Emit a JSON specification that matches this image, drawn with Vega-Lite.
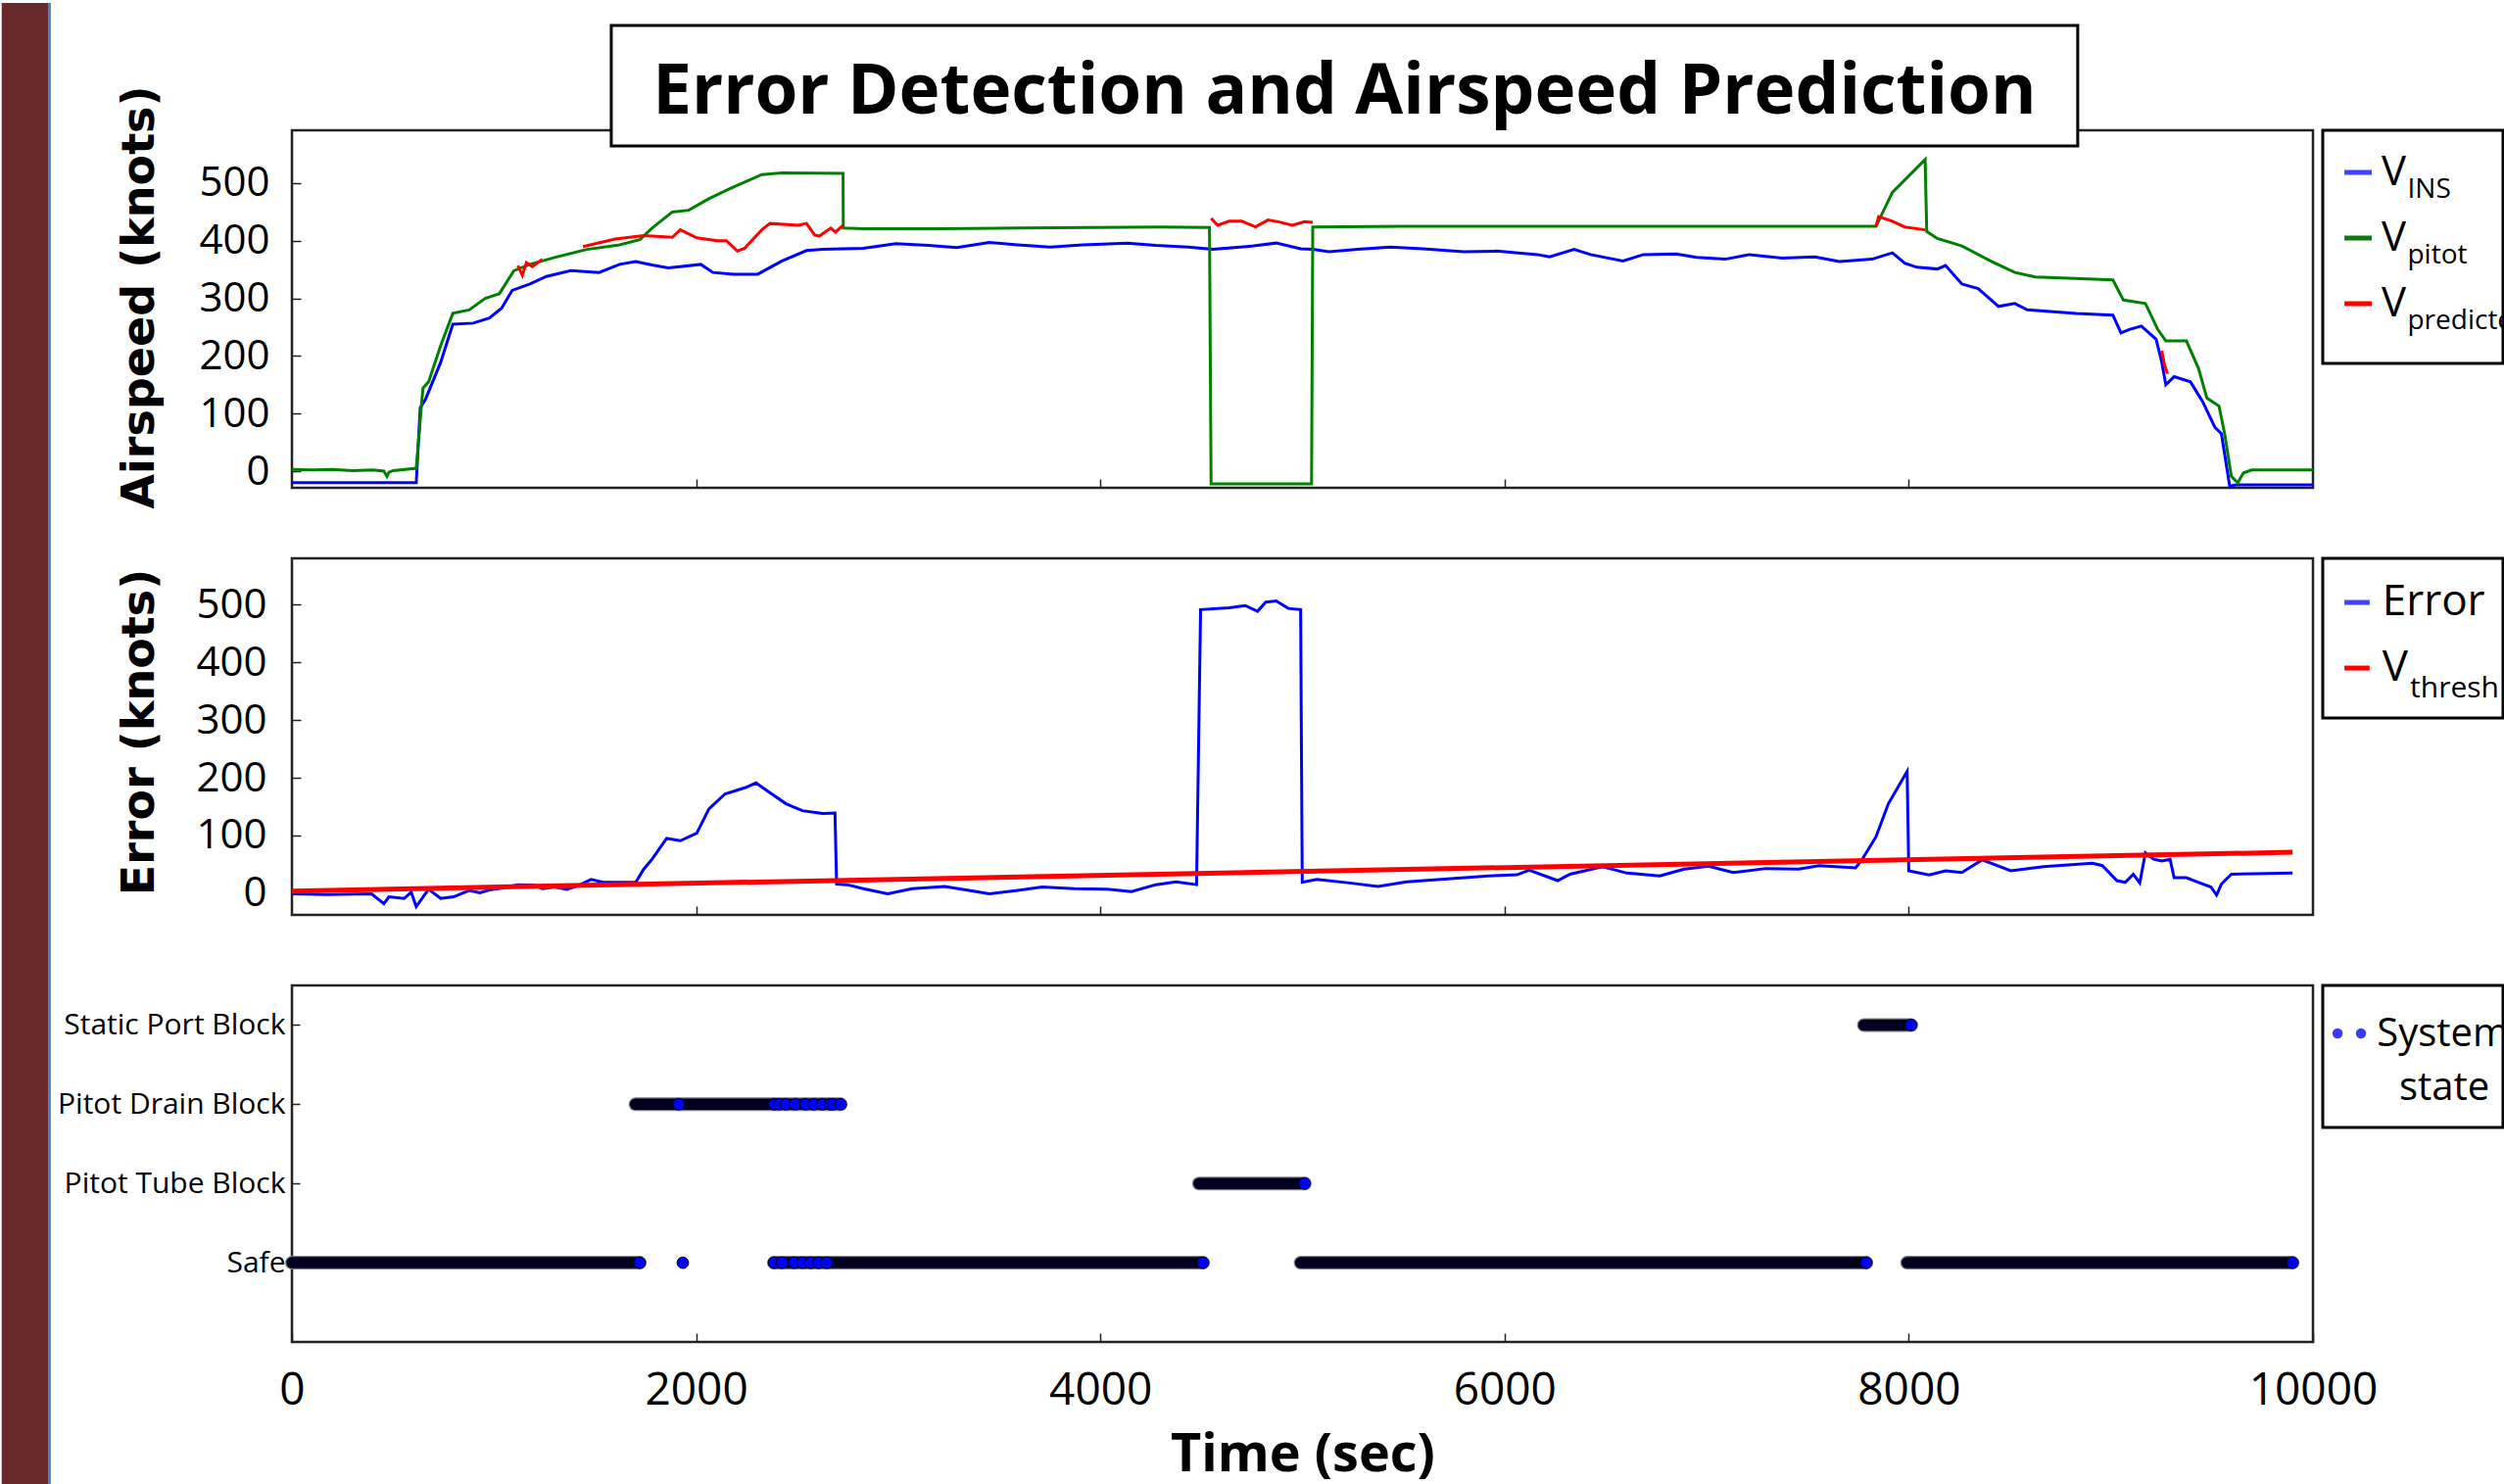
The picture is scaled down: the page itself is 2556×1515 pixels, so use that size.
{
  "$schema": "https://vega.github.io/schema/vega-lite/v6.json",
  "padding": 0,
  "background": "white",
  "config": {
    "font": "Open Sans",
    "view": {"stroke": "#222222", "strokeWidth": 2.5},
    "axis": {"domain": false, "grid": false, "labelColor": "black", "titleColor": "black", "tickColor": "#222222", "tickWidth": 1.5, "labelFont": "Open Sans"}
  },
  "datasets": {
    "airspeed": [
      {"series": "INS", "seg": "a", "t": 0, "v": -20}, {"series": "INS", "seg": "a", "t": 615, "v": -20}, {"series": "INS", "seg": "a", "t": 635, "v": 110}, {"series": "INS", "seg": "a", "t": 660, "v": 124}, {"series": "INS", "seg": "a", "t": 736, "v": 189}, {"series": "INS", "seg": "a", "t": 796, "v": 255}, {"series": "INS", "seg": "a", "t": 897, "v": 257}, {"series": "INS", "seg": "a", "t": 977, "v": 266}, {"series": "INS", "seg": "a", "t": 1038, "v": 283}, {"series": "INS", "seg": "a", "t": 1090, "v": 314}, {"series": "INS", "seg": "a", "t": 1178, "v": 325}, {"series": "INS", "seg": "a", "t": 1259, "v": 338}, {"series": "INS", "seg": "a", "t": 1380, "v": 348}, {"series": "INS", "seg": "a", "t": 1520, "v": 345}, {"series": "INS", "seg": "a", "t": 1621, "v": 359}, {"series": "INS", "seg": "a", "t": 1701, "v": 364}, {"series": "INS", "seg": "a", "t": 1782, "v": 358}, {"series": "INS", "seg": "a", "t": 1862, "v": 353}, {"series": "INS", "seg": "a", "t": 2023, "v": 359}, {"series": "INS", "seg": "a", "t": 2083, "v": 345}, {"series": "INS", "seg": "a", "t": 2184, "v": 342}, {"series": "INS", "seg": "a", "t": 2305, "v": 342}, {"series": "INS", "seg": "a", "t": 2425, "v": 365}, {"series": "INS", "seg": "a", "t": 2546, "v": 383}, {"series": "INS", "seg": "a", "t": 2626, "v": 385}, {"series": "INS", "seg": "a", "t": 2827, "v": 387}, {"series": "INS", "seg": "a", "t": 2988, "v": 395}, {"series": "INS", "seg": "a", "t": 3149, "v": 392}, {"series": "INS", "seg": "a", "t": 3290, "v": 388}, {"series": "INS", "seg": "a", "t": 3451, "v": 397}, {"series": "INS", "seg": "a", "t": 3591, "v": 393}, {"series": "INS", "seg": "a", "t": 3752, "v": 389}, {"series": "INS", "seg": "a", "t": 3913, "v": 393}, {"series": "INS", "seg": "a", "t": 4134, "v": 396}, {"series": "INS", "seg": "a", "t": 4275, "v": 392}, {"series": "INS", "seg": "a", "t": 4436, "v": 389}, {"series": "INS", "seg": "a", "t": 4557, "v": 385}, {"series": "INS", "seg": "a", "t": 4758, "v": 391}, {"series": "INS", "seg": "a", "t": 4870, "v": 396}, {"series": "INS", "seg": "a", "t": 4991, "v": 386}, {"series": "INS", "seg": "a", "t": 5051, "v": 385}, {"series": "INS", "seg": "a", "t": 5132, "v": 381}, {"series": "INS", "seg": "a", "t": 5273, "v": 385}, {"series": "INS", "seg": "a", "t": 5435, "v": 389}, {"series": "INS", "seg": "a", "t": 5596, "v": 386}, {"series": "INS", "seg": "a", "t": 5798, "v": 381}, {"series": "INS", "seg": "a", "t": 5960, "v": 382}, {"series": "INS", "seg": "a", "t": 6162, "v": 376}, {"series": "INS", "seg": "a", "t": 6223, "v": 372}, {"series": "INS", "seg": "a", "t": 6344, "v": 385}, {"series": "INS", "seg": "a", "t": 6425, "v": 376}, {"series": "INS", "seg": "a", "t": 6586, "v": 365}, {"series": "INS", "seg": "a", "t": 6687, "v": 376}, {"series": "INS", "seg": "a", "t": 6849, "v": 377}, {"series": "INS", "seg": "a", "t": 6950, "v": 371}, {"series": "INS", "seg": "a", "t": 7091, "v": 368}, {"series": "INS", "seg": "a", "t": 7212, "v": 376}, {"series": "INS", "seg": "a", "t": 7374, "v": 370}, {"series": "INS", "seg": "a", "t": 7535, "v": 372}, {"series": "INS", "seg": "a", "t": 7657, "v": 364}, {"series": "INS", "seg": "a", "t": 7818, "v": 368}, {"series": "INS", "seg": "a", "t": 7919, "v": 379}, {"series": "INS", "seg": "a", "t": 7980, "v": 361}, {"series": "INS", "seg": "a", "t": 8040, "v": 354}, {"series": "INS", "seg": "a", "t": 8141, "v": 351}, {"series": "INS", "seg": "a", "t": 8182, "v": 357}, {"series": "INS", "seg": "a", "t": 8263, "v": 325}, {"series": "INS", "seg": "a", "t": 8343, "v": 317}, {"series": "INS", "seg": "a", "t": 8444, "v": 286}, {"series": "INS", "seg": "a", "t": 8525, "v": 291}, {"series": "INS", "seg": "a", "t": 8586, "v": 280}, {"series": "INS", "seg": "a", "t": 8828, "v": 274}, {"series": "INS", "seg": "a", "t": 9010, "v": 271}, {"series": "INS", "seg": "a", "t": 9050, "v": 240}, {"series": "INS", "seg": "a", "t": 9091, "v": 246}, {"series": "INS", "seg": "a", "t": 9151, "v": 252}, {"series": "INS", "seg": "a", "t": 9224, "v": 229}, {"series": "INS", "seg": "a", "t": 9252, "v": 189}, {"series": "INS", "seg": "a", "t": 9272, "v": 150}, {"series": "INS", "seg": "a", "t": 9313, "v": 164}, {"series": "INS", "seg": "a", "t": 9394, "v": 155}, {"series": "INS", "seg": "a", "t": 9454, "v": 121}, {"series": "INS", "seg": "a", "t": 9515, "v": 76}, {"series": "INS", "seg": "a", "t": 9547, "v": 65}, {"series": "INS", "seg": "a", "t": 9588, "v": -26}, {"series": "INS", "seg": "a", "t": 9620, "v": -24}, {"series": "INS", "seg": "a", "t": 10000, "v": -24},

      {"series": "pitot", "seg": "a", "t": 0, "v": 3}, {"series": "pitot", "seg": "a", "t": 100, "v": 2}, {"series": "pitot", "seg": "a", "t": 200, "v": 3}, {"series": "pitot", "seg": "a", "t": 300, "v": 1}, {"series": "pitot", "seg": "a", "t": 400, "v": 2}, {"series": "pitot", "seg": "a", "t": 455, "v": 0}, {"series": "pitot", "seg": "a", "t": 470, "v": -9}, {"series": "pitot", "seg": "a", "t": 480, "v": -2}, {"series": "pitot", "seg": "a", "t": 500, "v": 1}, {"series": "pitot", "seg": "a", "t": 615, "v": 5}, {"series": "pitot", "seg": "a", "t": 648, "v": 144}, {"series": "pitot", "seg": "a", "t": 676, "v": 155}, {"series": "pitot", "seg": "a", "t": 736, "v": 218}, {"series": "pitot", "seg": "a", "t": 796, "v": 274}, {"series": "pitot", "seg": "a", "t": 877, "v": 280}, {"series": "pitot", "seg": "a", "t": 957, "v": 300}, {"series": "pitot", "seg": "a", "t": 1026, "v": 308}, {"series": "pitot", "seg": "a", "t": 1098, "v": 348}, {"series": "pitot", "seg": "a", "t": 1178, "v": 359}, {"series": "pitot", "seg": "a", "t": 1299, "v": 371}, {"series": "pitot", "seg": "a", "t": 1460, "v": 385}, {"series": "pitot", "seg": "a", "t": 1621, "v": 393}, {"series": "pitot", "seg": "a", "t": 1721, "v": 402}, {"series": "pitot", "seg": "a", "t": 1782, "v": 422}, {"series": "pitot", "seg": "a", "t": 1882, "v": 450}, {"series": "pitot", "seg": "a", "t": 1963, "v": 453}, {"series": "pitot", "seg": "a", "t": 2063, "v": 473}, {"series": "pitot", "seg": "a", "t": 2164, "v": 490}, {"series": "pitot", "seg": "a", "t": 2325, "v": 515}, {"series": "pitot", "seg": "a", "t": 2425, "v": 518}, {"series": "pitot", "seg": "a", "t": 2727, "v": 517}, {"series": "pitot", "seg": "a", "t": 2728, "v": 422}, {"series": "pitot", "seg": "a", "t": 2827, "v": 421}, {"series": "pitot", "seg": "a", "t": 3200, "v": 421}, {"series": "pitot", "seg": "a", "t": 3600, "v": 422}, {"series": "pitot", "seg": "a", "t": 3953, "v": 423}, {"series": "pitot", "seg": "a", "t": 4300, "v": 424}, {"series": "pitot", "seg": "a", "t": 4540, "v": 423}, {"series": "pitot", "seg": "a", "t": 4548, "v": -22}, {"series": "pitot", "seg": "a", "t": 5045, "v": -22}, {"series": "pitot", "seg": "a", "t": 5051, "v": 424}, {"series": "pitot", "seg": "a", "t": 5500, "v": 425}, {"series": "pitot", "seg": "a", "t": 6000, "v": 425}, {"series": "pitot", "seg": "a", "t": 6500, "v": 425}, {"series": "pitot", "seg": "a", "t": 7000, "v": 425}, {"series": "pitot", "seg": "a", "t": 7500, "v": 425}, {"series": "pitot", "seg": "a", "t": 7838, "v": 425}, {"series": "pitot", "seg": "a", "t": 7919, "v": 484}, {"series": "pitot", "seg": "a", "t": 8081, "v": 541}, {"series": "pitot", "seg": "a", "t": 8089, "v": 416}, {"series": "pitot", "seg": "a", "t": 8141, "v": 404}, {"series": "pitot", "seg": "a", "t": 8263, "v": 391}, {"series": "pitot", "seg": "a", "t": 8404, "v": 365}, {"series": "pitot", "seg": "a", "t": 8525, "v": 345}, {"series": "pitot", "seg": "a", "t": 8626, "v": 337}, {"series": "pitot", "seg": "a", "t": 9010, "v": 332}, {"series": "pitot", "seg": "a", "t": 9062, "v": 297}, {"series": "pitot", "seg": "a", "t": 9171, "v": 291}, {"series": "pitot", "seg": "a", "t": 9232, "v": 246}, {"series": "pitot", "seg": "a", "t": 9272, "v": 226}, {"series": "pitot", "seg": "a", "t": 9374, "v": 226}, {"series": "pitot", "seg": "a", "t": 9434, "v": 178}, {"series": "pitot", "seg": "a", "t": 9475, "v": 127}, {"series": "pitot", "seg": "a", "t": 9535, "v": 113}, {"series": "pitot", "seg": "a", "t": 9563, "v": 65}, {"series": "pitot", "seg": "a", "t": 9596, "v": -9}, {"series": "pitot", "seg": "a", "t": 9628, "v": -20}, {"series": "pitot", "seg": "a", "t": 9656, "v": -3}, {"series": "pitot", "seg": "a", "t": 9697, "v": 2}, {"series": "pitot", "seg": "a", "t": 10000, "v": 2},

      {"series": "pred", "seg": "a", "t": 1118, "v": 357}, {"series": "pred", "seg": "a", "t": 1140, "v": 340}, {"series": "pred", "seg": "a", "t": 1160, "v": 362}, {"series": "pred", "seg": "a", "t": 1190, "v": 355}, {"series": "pred", "seg": "a", "t": 1239, "v": 368},
      {"series": "pred", "seg": "b", "t": 1440, "v": 390}, {"series": "pred", "seg": "b", "t": 1600, "v": 403}, {"series": "pred", "seg": "b", "t": 1741, "v": 409}, {"series": "pred", "seg": "b", "t": 1782, "v": 408}, {"series": "pred", "seg": "b", "t": 1882, "v": 406}, {"series": "pred", "seg": "b", "t": 1922, "v": 419}, {"series": "pred", "seg": "b", "t": 2003, "v": 405}, {"series": "pred", "seg": "b", "t": 2103, "v": 400}, {"series": "pred", "seg": "b", "t": 2150, "v": 400}, {"series": "pred", "seg": "b", "t": 2204, "v": 382}, {"series": "pred", "seg": "b", "t": 2240, "v": 387}, {"series": "pred", "seg": "b", "t": 2325, "v": 419}, {"series": "pred", "seg": "b", "t": 2365, "v": 430}, {"series": "pred", "seg": "b", "t": 2506, "v": 427}, {"series": "pred", "seg": "b", "t": 2546, "v": 430}, {"series": "pred", "seg": "b", "t": 2586, "v": 410}, {"series": "pred", "seg": "b", "t": 2610, "v": 408}, {"series": "pred", "seg": "b", "t": 2666, "v": 422}, {"series": "pred", "seg": "b", "t": 2690, "v": 415}, {"series": "pred", "seg": "b", "t": 2727, "v": 427},
      {"series": "pred", "seg": "c", "t": 4548, "v": 439}, {"series": "pred", "seg": "c", "t": 4580, "v": 427}, {"series": "pred", "seg": "c", "t": 4637, "v": 434}, {"series": "pred", "seg": "c", "t": 4700, "v": 434}, {"series": "pred", "seg": "c", "t": 4768, "v": 424}, {"series": "pred", "seg": "c", "t": 4829, "v": 436}, {"series": "pred", "seg": "c", "t": 4880, "v": 433}, {"series": "pred", "seg": "c", "t": 4950, "v": 427}, {"series": "pred", "seg": "c", "t": 5011, "v": 433}, {"series": "pred", "seg": "c", "t": 5051, "v": 432},
      {"series": "pred", "seg": "d", "t": 7838, "v": 425}, {"series": "pred", "seg": "d", "t": 7851, "v": 442}, {"series": "pred", "seg": "d", "t": 7919, "v": 434}, {"series": "pred", "seg": "d", "t": 7980, "v": 424}, {"series": "pred", "seg": "d", "t": 8081, "v": 419},
      {"series": "pred", "seg": "e", "t": 9252, "v": 209}, {"series": "pred", "seg": "e", "t": 9265, "v": 185}, {"series": "pred", "seg": "e", "t": 9280, "v": 169}
    ],
    "error": [
      {"series": "err", "t": 0, "v": -1}, {"series": "err", "t": 173, "v": -2}, {"series": "err", "t": 394, "v": -1}, {"series": "err", "t": 455, "v": -18}, {"series": "err", "t": 480, "v": -6}, {"series": "err", "t": 555, "v": -9}, {"series": "err", "t": 590, "v": 2}, {"series": "err", "t": 615, "v": -23}, {"series": "err", "t": 676, "v": 7}, {"series": "err", "t": 736, "v": -9}, {"series": "err", "t": 800, "v": -6}, {"series": "err", "t": 877, "v": 5}, {"series": "err", "t": 930, "v": 1}, {"series": "err", "t": 977, "v": 6}, {"series": "err", "t": 1038, "v": 9}, {"series": "err", "t": 1118, "v": 15}, {"series": "err", "t": 1199, "v": 14}, {"series": "err", "t": 1240, "v": 8}, {"series": "err", "t": 1299, "v": 11}, {"series": "err", "t": 1360, "v": 7}, {"series": "err", "t": 1420, "v": 14}, {"series": "err", "t": 1480, "v": 24}, {"series": "err", "t": 1540, "v": 19}, {"series": "err", "t": 1701, "v": 19}, {"series": "err", "t": 1741, "v": 42}, {"series": "err", "t": 1782, "v": 59}, {"series": "err", "t": 1854, "v": 95}, {"series": "err", "t": 1922, "v": 91}, {"series": "err", "t": 2003, "v": 104}, {"series": "err", "t": 2063, "v": 146}, {"series": "err", "t": 2143, "v": 172}, {"series": "err", "t": 2244, "v": 183}, {"series": "err", "t": 2296, "v": 191}, {"series": "err", "t": 2365, "v": 174}, {"series": "err", "t": 2445, "v": 155}, {"series": "err", "t": 2526, "v": 143}, {"series": "err", "t": 2626, "v": 138}, {"series": "err", "t": 2687, "v": 139}, {"series": "err", "t": 2695, "v": 16}, {"series": "err", "t": 2747, "v": 15}, {"series": "err", "t": 2827, "v": 8}, {"series": "err", "t": 2948, "v": -1}, {"series": "err", "t": 3069, "v": 8}, {"series": "err", "t": 3230, "v": 12}, {"series": "err", "t": 3350, "v": 5}, {"series": "err", "t": 3451, "v": -1}, {"series": "err", "t": 3591, "v": 5}, {"series": "err", "t": 3712, "v": 11}, {"series": "err", "t": 3873, "v": 8}, {"series": "err", "t": 4034, "v": 7}, {"series": "err", "t": 4154, "v": 3}, {"series": "err", "t": 4275, "v": 15}, {"series": "err", "t": 4375, "v": 20}, {"series": "err", "t": 4476, "v": 15}, {"series": "err", "t": 4496, "v": 491}, {"series": "err", "t": 4637, "v": 494}, {"series": "err", "t": 4717, "v": 498}, {"series": "err", "t": 4778, "v": 488}, {"series": "err", "t": 4818, "v": 504}, {"series": "err", "t": 4870, "v": 506}, {"series": "err", "t": 4930, "v": 493}, {"series": "err", "t": 4991, "v": 491}, {"series": "err", "t": 4999, "v": 19}, {"series": "err", "t": 5071, "v": 24}, {"series": "err", "t": 5233, "v": 18}, {"series": "err", "t": 5374, "v": 12}, {"series": "err", "t": 5516, "v": 20}, {"series": "err", "t": 5718, "v": 25}, {"series": "err", "t": 5920, "v": 30}, {"series": "err", "t": 6061, "v": 32}, {"series": "err", "t": 6122, "v": 40}, {"series": "err", "t": 6263, "v": 22}, {"series": "err", "t": 6324, "v": 33}, {"series": "err", "t": 6485, "v": 46}, {"series": "err", "t": 6606, "v": 35}, {"series": "err", "t": 6768, "v": 30}, {"series": "err", "t": 6889, "v": 42}, {"series": "err", "t": 7010, "v": 47}, {"series": "err", "t": 7131, "v": 36}, {"series": "err", "t": 7293, "v": 43}, {"series": "err", "t": 7455, "v": 42}, {"series": "err", "t": 7556, "v": 48}, {"series": "err", "t": 7737, "v": 44}, {"series": "err", "t": 7770, "v": 59}, {"series": "err", "t": 7838, "v": 98}, {"series": "err", "t": 7899, "v": 155}, {"series": "err", "t": 7992, "v": 211}, {"series": "err", "t": 8000, "v": 39}, {"series": "err", "t": 8101, "v": 32}, {"series": "err", "t": 8182, "v": 39}, {"series": "err", "t": 8263, "v": 36}, {"series": "err", "t": 8364, "v": 58}, {"series": "err", "t": 8505, "v": 39}, {"series": "err", "t": 8667, "v": 46}, {"series": "err", "t": 8909, "v": 52}, {"series": "err", "t": 8958, "v": 48}, {"series": "err", "t": 9030, "v": 22}, {"series": "err", "t": 9071, "v": 19}, {"series": "err", "t": 9111, "v": 33}, {"series": "err", "t": 9143, "v": 18}, {"series": "err", "t": 9171, "v": 70}, {"series": "err", "t": 9212, "v": 59}, {"series": "err", "t": 9252, "v": 56}, {"series": "err", "t": 9293, "v": 59}, {"series": "err", "t": 9313, "v": 27}, {"series": "err", "t": 9374, "v": 27}, {"series": "err", "t": 9434, "v": 19}, {"series": "err", "t": 9495, "v": 11}, {"series": "err", "t": 9523, "v": -3}, {"series": "err", "t": 9547, "v": 16}, {"series": "err", "t": 9596, "v": 33}, {"series": "err", "t": 9899, "v": 35},
      {"series": "thr", "t": 0, "v": 4}, {"series": "thr", "t": 9899, "v": 71}
    ],
    "states": [
      {"state": "Safe", "lvl": 1, "t0": 0, "t1": 1721},
      {"state": "Safe", "lvl": 1, "t0": 2385, "t1": 4508},
      {"state": "Safe", "lvl": 1, "t0": 4991, "t1": 7790},
      {"state": "Safe", "lvl": 1, "t0": 7992, "t1": 9899},
      {"state": "Pitot Drain Block", "lvl": 3, "t0": 1700, "t1": 2715},
      {"state": "Pitot Tube Block", "lvl": 2, "t0": 4488, "t1": 5011},
      {"state": "Static Port Block", "lvl": 4, "t0": 7778, "t1": 8012}
    ],
    "markers": [
      {"lvl": 1, "t": 1721}, {"lvl": 1, "t": 1934}, {"lvl": 1, "t": 2385}, {"lvl": 1, "t": 2425}, {"lvl": 1, "t": 2485}, {"lvl": 1, "t": 2526}, {"lvl": 1, "t": 2566}, {"lvl": 1, "t": 2606}, {"lvl": 1, "t": 2646}, {"lvl": 1, "t": 4508}, {"lvl": 1, "t": 7790}, {"lvl": 1, "t": 9899},
      {"lvl": 3, "t": 1914}, {"lvl": 3, "t": 2387}, {"lvl": 3, "t": 2411}, {"lvl": 3, "t": 2444}, {"lvl": 3, "t": 2490}, {"lvl": 3, "t": 2541}, {"lvl": 3, "t": 2582}, {"lvl": 3, "t": 2625}, {"lvl": 3, "t": 2663}, {"lvl": 3, "t": 2679}, {"lvl": 3, "t": 2715},
      {"lvl": 2, "t": 5011}, {"lvl": 4, "t": 8012}
    ]
  },
  "columns": 2,
  "align": "each",
  "bounds": "flush",
  "spacing": {"row": 72, "column": 10},
  "resolve": {"scale": {"color": "independent"}},
  "concat": [
    {
      "width": 2063,
      "height": 365,
      "layer": [
        {
          "data": {"name": "airspeed"},
          "transform": [{"filter": "datum.series == 'INS'"}],
          "mark": {"type": "line", "color": "#0000ff", "strokeWidth": 3},
          "encoding": {
            "x": {"field": "t", "type": "quantitative", "scale": {"domain": [0, 10000], "nice": false, "zero": false}, "axis": {"values": [2000, 4000, 6000, 8000], "labels": false, "tickSize": -9, "title": null}},
            "y": {"field": "v", "type": "quantitative", "scale": {"domain": [-28.9, 591.8], "nice": false, "zero": false}, "axis": {"values": [0, 100, 200, 300, 400, 500], "format": "d", "labelFontSize": 42, "labelPadding": 32, "tickSize": -9, "title": "Airspeed (knots)", "titleFont": "DejaVu Sans", "titleFontWeight": "bold", "titleFontSize": 46, "titlePadding": 36, "titleY": 170}}
          }
        },
        {
          "data": {"name": "airspeed"},
          "transform": [{"filter": "datum.series == 'pitot'"}],
          "mark": {"type": "line", "color": "#008000", "strokeWidth": 3},
          "encoding": {
            "x": {"field": "t", "type": "quantitative"},
            "y": {"field": "v", "type": "quantitative"}
          }
        },
        {
          "data": {"name": "airspeed"},
          "transform": [{"filter": "datum.series == 'pred'"}],
          "mark": {"type": "line", "color": "#ff0000", "strokeWidth": 3},
          "encoding": {
            "x": {"field": "t", "type": "quantitative"},
            "y": {"field": "v", "type": "quantitative"},
            "detail": {"field": "seg", "type": "nominal"}
          }
        },
        {
          "data": {"values": [{}]},
          "mark": {"type": "rect", "color": "#68292b"},
          "encoding": {
            "x": {"datum": -1436, "type": "quantitative"},
            "x2": {"datum": -1207},
            "y": {"datum": 813, "type": "quantitative"},
            "y2": {"datum": -1762}
          }
        },
        {
          "data": {"values": [{}]},
          "mark": {"type": "rule", "color": "#4f81bd", "strokeWidth": 3},
          "encoding": {
            "x": {"datum": -1200, "type": "quantitative"},
            "y": {"datum": 813, "type": "quantitative"},
            "y2": {"datum": -1762}
          }
        },
        {
          "data": {"values": [{}]},
          "mark": {"type": "rect", "fill": "white", "stroke": "black", "strokeWidth": 3},
          "encoding": {
            "x": {"datum": 1580, "type": "quantitative"},
            "x2": {"datum": 8836},
            "y": {"datum": 773.8, "type": "quantitative"},
            "y2": {"datum": 564.6}
          }
        },
        {
          "data": {"values": [{}]},
          "mark": {"type": "text", "font": "Open Sans", "fontWeight": "bold", "fontSize": 71, "align": "center", "baseline": "alphabetic", "color": "black"},
          "encoding": {
            "x": {"datum": 5208, "type": "quantitative"},
            "y": {"datum": 620.7, "type": "quantitative"},
            "text": {"value": "Error Detection and Airspeed Prediction"}
          }
        }
      ]
    },
    {
      "width": 184,
      "height": 238,
      "view": {"stroke": "black", "strokeWidth": 3},
      "data": {"values": [
        {"key": "V_INS", "main": "V", "sub": "INS", "order": 0},
        {"key": "V_pitot", "main": "V", "sub": "pitot", "order": 1},
        {"key": "V_predicted", "main": "V", "sub": "predicted", "order": 2}
      ]},
      "layer": [
        {
          "mark": {"type": "rule", "strokeWidth": 5},
          "encoding": {
            "x": {"datum": 0.12, "type": "quantitative", "scale": {"domain": [0, 1], "nice": false}, "axis": null},
            "x2": {"datum": 0.272},
            "y": {"field": "order", "type": "quantitative", "scale": {"domain": [-0.642, 2.91], "reverse": true, "nice": false, "zero": false}, "axis": null},
            "color": {"field": "key", "type": "nominal", "scale": {"domain": ["V_INS", "V_pitot", "V_predicted"], "range": ["#4040ff", "#0a7a0a", "#ff0000"]}, "legend": null}
          }
        },
        {
          "mark": {"type": "text", "align": "left", "baseline": "middle", "fontSize": 42, "font": "Open Sans", "color": "black", "clip": true},
          "encoding": {
            "x": {"datum": 0.326, "type": "quantitative"},
            "y": {"field": "order", "type": "quantitative"},
            "text": {"field": "main"}
          }
        },
        {
          "mark": {"type": "text", "align": "left", "baseline": "alphabetic", "dy": 26, "fontSize": 28, "font": "Open Sans", "color": "black", "clip": true},
          "encoding": {
            "x": {"datum": 0.47, "type": "quantitative"},
            "y": {"field": "order", "type": "quantitative"},
            "text": {"field": "sub"}
          }
        }
      ]
    },
    {
      "width": 2063,
      "height": 364,
      "data": {"name": "error"},
      "layer": [
        {
          "transform": [{"filter": "datum.series == 'err'"}],
          "mark": {"type": "line", "color": "#0000ff", "strokeWidth": 3},
          "encoding": {
            "x": {"field": "t", "type": "quantitative", "scale": {"domain": [0, 10000], "nice": false, "zero": false}, "axis": {"values": [2000, 4000, 6000, 8000], "labels": false, "tickSize": -9, "title": null}},
            "y": {"field": "v", "type": "quantitative", "scale": {"domain": [-37.3, 579.7], "nice": false, "zero": false}, "axis": {"values": [0, 100, 200, 300, 400, 500], "format": "d", "labelFontSize": 42, "labelPadding": 35, "tickSize": -9, "title": "Error (knots)", "titleFont": "DejaVu Sans", "titleFontWeight": "bold", "titleFontSize": 46, "titlePadding": 33, "titleY": 177}}
          }
        },
        {
          "transform": [{"filter": "datum.series == 'thr'"}],
          "mark": {"type": "line", "color": "#ff0000", "strokeWidth": 5},
          "encoding": {
            "x": {"field": "t", "type": "quantitative"},
            "y": {"field": "v", "type": "quantitative"}
          }
        }
      ]
    },
    {
      "width": 184,
      "height": 163,
      "view": {"stroke": "black", "strokeWidth": 3},
      "data": {"values": [
        {"key": "Error", "main": "Error", "sub": "", "order": 0},
        {"key": "V_thresh", "main": "V", "sub": "thresh", "order": 1}
      ]},
      "layer": [
        {
          "mark": {"type": "rule", "strokeWidth": 5},
          "encoding": {
            "x": {"datum": 0.12, "type": "quantitative", "scale": {"domain": [0, 1], "nice": false}, "axis": null},
            "x2": {"datum": 0.26},
            "y": {"field": "order", "type": "quantitative", "scale": {"domain": [-0.672, 1.761], "reverse": true, "nice": false, "zero": false}, "axis": null},
            "color": {"field": "key", "type": "nominal", "scale": {"domain": ["Error", "V_thresh"], "range": ["#4040ff", "#ff0000"]}, "legend": null}
          }
        },
        {
          "mark": {"type": "text", "align": "left", "baseline": "middle", "fontSize": 44, "font": "Open Sans", "color": "black", "clip": true},
          "encoding": {
            "x": {"datum": 0.33, "type": "quantitative"},
            "y": {"field": "order", "type": "quantitative"},
            "text": {"field": "main"}
          }
        },
        {
          "mark": {"type": "text", "align": "left", "baseline": "alphabetic", "dy": 30, "fontSize": 30, "font": "Open Sans", "color": "black", "clip": true},
          "encoding": {
            "x": {"datum": 0.484, "type": "quantitative"},
            "y": {"field": "order", "type": "quantitative"},
            "text": {"field": "sub"}
          }
        }
      ]
    },
    {
      "width": 2063,
      "height": 364,
      "layer": [
        {
          "data": {"name": "states"},
          "mark": {"type": "rule", "color": "#7a7a8a", "strokeWidth": 14, "strokeCap": "round"},
          "encoding": {
            "x": {"field": "t0", "type": "quantitative", "scale": {"domain": [0, 10000], "nice": false, "zero": false}, "axis": {"values": [0, 2000, 4000, 6000, 8000, 10000], "format": "d", "labelFontSize": 46, "labelFlush": false, "labelPadding": 36, "tickSize": -9, "title": "Time (sec)", "titleFont": "Open Sans", "titleFontWeight": "bold", "titleFontSize": 54, "titlePadding": 16}},
            "x2": {"field": "t1"},
            "y": {"field": "lvl", "type": "quantitative", "scale": {"domain": [0, 4.5], "nice": false, "zero": false}, "axis": {"values": [1, 2, 3, 4], "labelExpr": "['', 'Safe', 'Pitot Tube Block', 'Pitot Drain Block', 'Static Port Block'][datum.value]", "labelFontSize": 30, "labelLimit": 600, "labelPadding": 15, "tickSize": -8, "title": null}}
          }
        },
        {
          "data": {"name": "states"},
          "mark": {"type": "rule", "color": "#00001f", "strokeWidth": 11.5, "strokeCap": "round"},
          "encoding": {
            "x": {"field": "t0", "type": "quantitative"},
            "x2": {"field": "t1"},
            "y": {"field": "lvl", "type": "quantitative"}
          }
        },
        {
          "data": {"name": "markers"},
          "mark": {"type": "point", "shape": "circle", "filled": true, "fill": "#0000ff", "stroke": "#00001f", "strokeWidth": 1, "size": 140, "opacity": 1},
          "encoding": {
            "x": {"field": "t", "type": "quantitative"},
            "y": {"field": "lvl", "type": "quantitative"}
          }
        }
      ]
    },
    {
      "width": 184,
      "height": 145,
      "view": {"stroke": "black", "strokeWidth": 3},
      "data": {"values": [{}]},
      "layer": [
        {
          "mark": {"type": "point", "shape": "circle", "filled": true, "color": "#3a3aff", "size": 110, "opacity": 1},
          "encoding": {
            "x": {"datum": 0.082, "type": "quantitative", "scale": {"domain": [0, 1], "nice": false}, "axis": null},
            "y": {"datum": 0.662, "type": "quantitative", "scale": {"domain": [0, 1], "nice": false}, "axis": null}
          }
        },
        {
          "mark": {"type": "point", "shape": "circle", "filled": true, "color": "#3a3aff", "size": 110, "opacity": 1},
          "encoding": {
            "x": {"datum": 0.212, "type": "quantitative"},
            "y": {"datum": 0.662, "type": "quantitative"}
          }
        },
        {
          "mark": {"type": "text", "align": "left", "baseline": "middle", "fontSize": 40, "font": "Open Sans", "color": "black", "clip": true},
          "encoding": {
            "x": {"datum": 0.3, "type": "quantitative"},
            "y": {"datum": 0.655, "type": "quantitative"},
            "text": {"value": "System"}
          }
        },
        {
          "mark": {"type": "text", "align": "center", "baseline": "middle", "fontSize": 40, "font": "Open Sans", "color": "black", "clip": true},
          "encoding": {
            "x": {"datum": 0.674, "type": "quantitative"},
            "y": {"datum": 0.276, "type": "quantitative"},
            "text": {"value": "state"}
          }
        }
      ]
    }
  ]
}
